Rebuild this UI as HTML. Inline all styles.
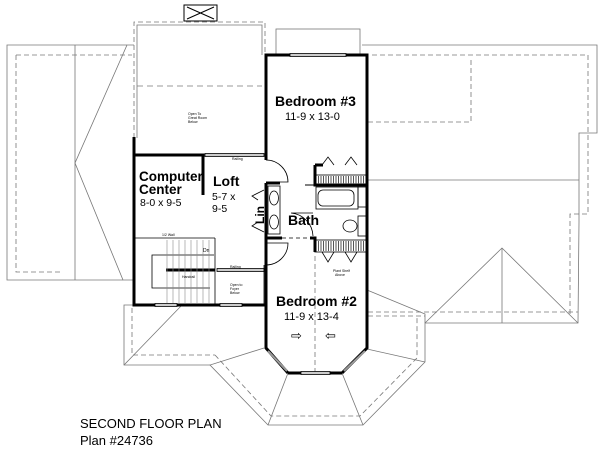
<!DOCTYPE html>
<html><head><style>
html,body{margin:0;padding:0;background:#fff;overflow:hidden;}
svg{display:block;}
text{font-family:"Liberation Sans",sans-serif;fill:#000;}
</style></head><body>
<svg width="600" height="457" viewBox="0 0 600 457" xmlns="http://www.w3.org/2000/svg">
<g fill="none" stroke="#777" stroke-width="0.8">
  <!-- left roof -->
  <polyline points="134,45 7,45 7,280 134,280"/>
  <polyline points="16,55 16,272 60,272" stroke-dasharray="5,3"/>
  <line x1="16" y1="55" x2="132" y2="55" stroke-dasharray="5,3"/>
  <line x1="75" y1="45" x2="75" y2="280"/>
  <polyline points="127,45 75,163 123,280"/>
  <!-- right roof -->
  <polyline points="362,45 597,45 597,133 579,133 579,222 578,323 425,323"/>
  <polyline points="372,55 588,55 588,214 570,214 570,315" stroke-dasharray="5,3"/>
  <polyline points="368,122 471,122 471,57" stroke-dasharray="5,3"/>
  <line x1="368" y1="180" x2="579" y2="180"/>
  <polyline points="425,323 502,248 578,323"/>
  <line x1="502" y1="248" x2="502" y2="323"/>
  <line x1="368" y1="312" x2="578" y2="312" stroke-dasharray="5,3"/>
  <line x1="368" y1="316" x2="425" y2="316" stroke-dasharray="5,3"/>
  <!-- left front wing -->
  <polyline points="134,305 124,305 124,365 210,365"/>
  <polyline points="132,308 132,355 215,355" stroke-dasharray="5,3"/>
  <line x1="124" y1="365" x2="182" y2="305"/>
  <!-- bay roof -->
  <polyline points="264,348 210,365 268,425 363,425 425,362 425,314 367,290"/>
  <polyline points="367,349 425,362"/>
  <line x1="288" y1="373" x2="268" y2="425"/>
  <line x1="342" y1="373" x2="363" y2="425"/>
  <polyline points="215,355 271,416 360,416 417,358 417,316" stroke-dasharray="5,3"/>
  <line x1="315" y1="240" x2="315" y2="373" stroke-dasharray="5,3"/>
  <!-- bump -->
  <rect x="276" y="29" width="84" height="26"/>
  <!-- open area -->
  <polyline points="134,138 134,22 265,22 265,55" stroke-dasharray="5,3"/>
  <polyline points="137,138 137,25 262,25 262,55"/>
  <line x1="137" y1="86" x2="262" y2="86" stroke-dasharray="6,4"/>
</g>
<!-- chimney -->
<g fill="none" stroke="#000" stroke-width="1">
  <rect x="184" y="5" width="33" height="16"/>
  <line x1="187" y1="7" x2="214" y2="19"/><line x1="214" y1="7" x2="187" y2="19"/>
</g>
<!-- walls -->
<g fill="none" stroke="#000" stroke-width="3">
  <polyline points="266,160 266,55 290,55"/>
  <polyline points="346,55 367,55 367,348 342,373"/>
  <polyline points="266,238 266,348 288,373"/>
  <line x1="288" y1="373" x2="301" y2="373"/>
  <line x1="330" y1="373" x2="342" y2="373"/>
  <polyline points="134,137 134,305 155,305"/>
  <line x1="177" y1="305" x2="220" y2="305"/>
  <line x1="242" y1="305" x2="266" y2="305"/>
  <polyline points="134,155 203,155 203,195"/>
  <polyline points="266,183 266,238 282,238"/>
  <polyline points="266,183 280,183"/>
  <polyline points="315,165 315,185 367,185"/>
  <polyline points="315,165 323,165"/>
  <polyline points="310,238 315,238 315,252"/>
  <line x1="305" y1="185" x2="315" y2="185" stroke-width="1"/>
</g>
<g fill="none" stroke="#000" stroke-width="0.8">
  <line x1="282" y1="238" x2="310" y2="238" stroke-dasharray="4,3"/>
  <!-- windows -->
  <rect x="290" y="53.5" width="56" height="3" fill="#ccc"/>
  <rect x="301" y="371.5" width="29" height="3" fill="#ccc"/>
  <rect x="155" y="303.5" width="22" height="3" fill="#ccc"/>
  <rect x="220" y="303.5" width="22" height="3" fill="#ccc"/>
  <rect x="205" y="153.5" width="59" height="3" fill="#ccc"/>
  <rect x="217" y="268.5" width="47" height="3" fill="#ccc"/>
  <!-- doors -->
  <path d="M266,160 A22,22 0 0 1 288,182 L266,182"/>
  <path d="M266,265 A22,22 0 0 0 288,243 L266,243"/>
  <path d="M313,236 A24,24 0 0 0 291,213 L313,213"/>
  <!-- lavs -->
  <rect x="268" y="186" width="12" height="48"/>
  <ellipse cx="274" cy="198" rx="4.5" ry="7"/><ellipse cx="274" cy="222" rx="4.5" ry="7"/>
  <!-- lin -->
  <polyline points="264,190 252,196 258,200"/>
  <polyline points="264,232 252,226 258,222"/>
  <!-- tub -->
  <rect x="316" y="187" width="42" height="22"/>
  <rect x="318" y="190" width="36" height="16" rx="5"/>
  <rect x="358" y="187" width="9" height="20"/>
  <ellipse cx="350" cy="226" rx="7" ry="6"/>
  <rect x="358" y="216" width="9" height="20"/>
  <!-- closets -->
  <rect x="316" y="175" width="50" height="10"/>
  <rect x="316" y="240" width="50" height="12"/>
  <!-- closet doors -->
  <polyline points="322,165 328,157 334,165"/>
  <polyline points="345,165 351,157 357,165"/>
  <polyline points="322,252 328,262 334,252"/>
  <polyline points="345,252 351,262 357,252"/>
  <!-- bay windows -->
  <line x1="268" y1="351" x2="287" y2="371" stroke="#999" stroke-width="2"/>
  <line x1="365" y1="351" x2="344" y2="371" stroke="#999" stroke-width="2"/>
  <!-- stairs -->
  <line x1="134" y1="238" x2="215" y2="238"/>
  <line x1="215" y1="238" x2="215" y2="305"/>
  <polyline points="214,255 152,255 152,288 210,288"/>
  <line x1="166" y1="270" x2="215" y2="270" stroke-width="3"/>
  <line x1="264" y1="265" x2="264" y2="305"/>
</g>
<g stroke="#888" stroke-width="0.6">
  <line x1="167" y1="240" x2="167" y2="303"/><line x1="173" y1="240" x2="173" y2="303"/>
  <line x1="179" y1="240" x2="179" y2="303"/><line x1="185" y1="240" x2="185" y2="303"/>
  <line x1="191" y1="240" x2="191" y2="303"/><line x1="197" y1="240" x2="197" y2="303"/>
  <line x1="203" y1="240" x2="203" y2="303"/><line x1="209" y1="240" x2="209" y2="303"/>
</g>
<g stroke="#555" stroke-width="1.2" stroke-dasharray="1,1.5">
  <line x1="318" y1="180" x2="365" y2="180" stroke-width="8"/>
  <line x1="318" y1="246" x2="365" y2="246" stroke-width="10"/>
</g>
<text x="275" y="106" font-size="14" font-weight="bold">Bedroom #3</text>
<text x="285" y="120" font-size="11">11-9 x 13-0</text>
<text x="139" y="181" font-size="13.5" font-weight="bold">Computer</text>
<text x="139" y="194" font-size="13.5" font-weight="bold">Center</text>
<text x="140" y="206" font-size="10.5">8-0 x 9-5</text>
<text x="213" y="186" font-size="14" font-weight="bold">Loft</text>
<text x="212" y="200" font-size="10.5">5-7 x</text>
<text x="212" y="212" font-size="10.5">9-5</text>
<text x="288" y="225" font-size="14" font-weight="bold">Bath</text>
<text x="0" y="0" font-size="12" font-weight="bold" transform="translate(264,224) rotate(-90)">Lin</text>
<text x="276" y="306" font-size="14" font-weight="bold">Bedroom #2</text>
<text x="284" y="320" font-size="11">11-9 x 13-4</text>
<text x="188" y="115" font-size="3.5">Open To</text>
<text x="188" y="119" font-size="3.5">Great Room</text>
<text x="188" y="123" font-size="3.5">Below</text>
<text x="230" y="286" font-size="3.5">Open to</text>
<text x="230" y="290" font-size="3.5">Foyer</text>
<text x="230" y="294" font-size="3.5">Below</text>
<text x="232" y="160" font-size="3.5">Railing</text>
<text x="230" y="268" font-size="3.5">Railing</text>
<text x="162" y="236" font-size="3.5">1/2 Wall</text>
<text x="203" y="252" font-size="5">Dn</text>
<text x="182" y="278" font-size="3.5">Handrail</text>
<text x="333" y="272" font-size="3.5">Plant Shelf</text>
<text x="335" y="276" font-size="3.5">Above</text>
<text x="291" y="340" font-size="13">⇨</text>
<text x="325" y="340" font-size="13">⇦</text>
<text x="80" y="428" font-size="13">SECOND FLOOR PLAN</text>
<text x="80" y="445" font-size="13">Plan #24736</text>
</svg>
</body></html>
